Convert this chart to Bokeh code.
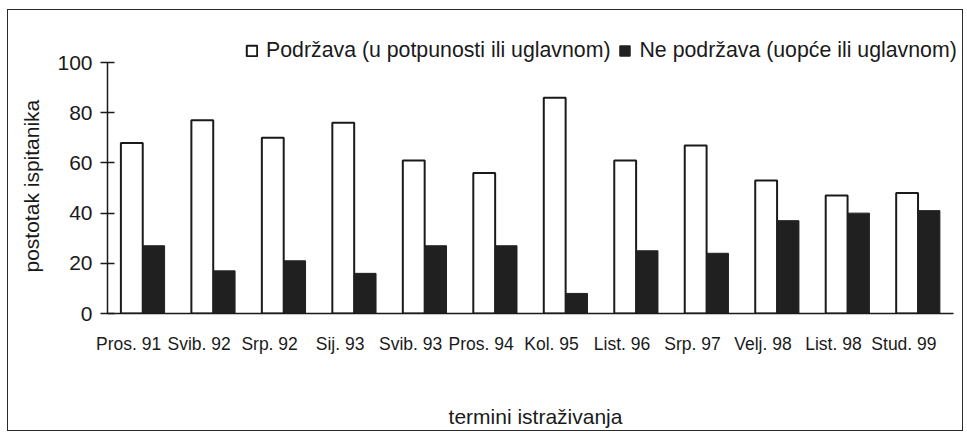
from bokeh.plotting import figure
from bokeh.models import ColumnDataSource, Range1d, FixedTicker, Legend, LegendItem, Title
from bokeh.transform import dodge
from bokeh.embed import file_html
from bokeh.resources import INLINE

categories = ["Pros. 91", "Svib. 92", "Srp. 92", "Sij. 93", "Svib. 93", "Pros. 94",
              "Kol. 95", "List. 96", "Srp. 97", "Velj. 98", "List. 98", "Stud. 99"]
podrzava = [68, 77, 70, 76, 61, 56, 86, 61, 67, 53, 47, 48]
ne_podrzava = [27, 17, 21, 16, 27, 27, 8, 25, 24, 37, 40, 41]
y_ticks = [0, 20, 40, 60, 80, 100]

label_podrzava = "Podržava (u potpunosti ili uglavnom)"
label_ne = "Ne podržava (uopće ili uglavnom)"
y_title = "postotak ispitanika"
x_title = "termini istraživanja"

FONT = "Liberation Sans"
INK = "#1a1a1a"

idx = list(range(len(categories)))
src = ColumnDataSource(dict(idx=idx, a=podrzava, b=ne_podrzava))

p = figure(width=956, height=422, output_backend="svg", toolbar_location=None,
           x_range=Range1d(-0.3, 11.845), y_range=Range1d(0, 110),
           min_border_left=98, min_border_right=1, min_border_top=27, min_border_bottom=119)
p.styles = {"border": "1px solid #2a2a2a", "margin-left": "7px", "margin-top": "9px"}

r1 = p.vbar(x=dodge("idx", 0.045, range=p.x_range), top="a", width=0.31, bottom=0,
            source=src, fill_color="white", line_color=INK, line_width=2)
r2 = p.vbar(x=dodge("idx", 0.355, range=p.x_range), top="b", width=0.31, bottom=0,
            source=src, fill_color="#202020", line_color="#202020", line_width=1)

p.xgrid.visible = False
p.ygrid.visible = False
p.outline_line_color = None
p.background_fill_color = "white"
p.border_fill_color = "white"

# y axis
ya = p.yaxis[0]
ya.ticker = FixedTicker(ticks=y_ticks)
ya.bounds = (0, 100)
ya.major_tick_in = 7
ya.major_tick_out = 7
ya.minor_tick_in = 0
ya.minor_tick_out = 0
ya.major_tick_line_color = INK
ya.major_tick_line_width = 1.5
ya.axis_line_color = INK
ya.axis_line_width = 1.5
ya.major_label_text_font = FONT
ya.major_label_text_font_size = "21px"
ya.major_label_text_color = INK
ya.major_label_standoff = 8

# y axis title, anchored at its start so it is centred on the 0-100 span
yt = Title(text=y_title, align="left", offset=41, vertical_align="middle", standoff=21,
           text_font=FONT, text_font_size="21px", text_font_style="normal", text_color=INK)
p.add_layout(yt, "left")

# x axis
xa = p.xaxis[0]
xa.ticker = FixedTicker(ticks=idx)
xa.bounds = (-0.3, 11.7)
xa.major_label_overrides = {i: c for i, c in zip(idx, categories)}
xa.major_tick_in = 0
xa.major_tick_out = 0
xa.minor_tick_in = 0
xa.minor_tick_out = 0
xa.axis_line_color = INK
xa.axis_line_width = 1.5
xa.major_label_text_font = FONT
xa.major_label_text_font_size = "17.5px"
xa.major_label_text_color = INK
xa.major_label_standoff = 20
xa.axis_label = x_title
xa.axis_label_text_font = FONT
xa.axis_label_text_font_size = "21px"
xa.axis_label_text_font_style = "normal"
xa.axis_label_text_color = INK
xa.axis_label_standoff = 48

legend = Legend(items=[LegendItem(label=label_podrzava, renderers=[r1]),
                       LegendItem(label=label_ne, renderers=[r2])],
                orientation="horizontal", location=(138, 250))
legend.glyph_width = 13
legend.glyph_height = 13
legend.label_standoff = 8
legend.spacing = 8
legend.padding = 0
legend.margin = 0
legend.border_line_alpha = 0
legend.background_fill_alpha = 0
legend.label_text_font = FONT
legend.label_text_font_size = "21.3px"
legend.label_text_color = INK
p.add_layout(legend, "center")

open("out.html", "w").write(file_html(p, INLINE))
